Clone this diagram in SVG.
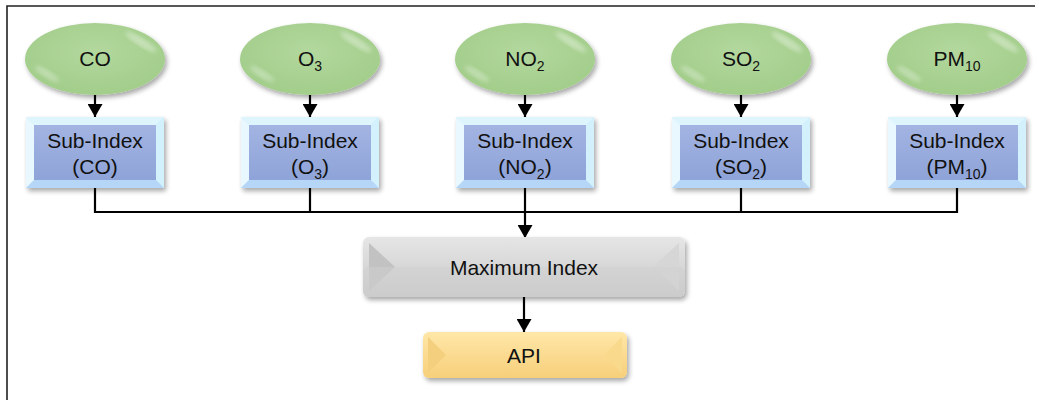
<svg xmlns="http://www.w3.org/2000/svg" width="1039" height="400" viewBox="0 0 1039 400">
<defs>
<style>
text{font-family:"Liberation Sans",Arial,sans-serif;font-size:21px;fill:#111;text-anchor:middle}
.sub{font-size:14px}
.conn{stroke:#000;stroke-width:2.2;fill:none}
</style>
<radialGradient id="gEl" cx="0.5" cy="0.4" r="0.6">
<stop offset="0" stop-color="#b3d89e"/>
<stop offset="1" stop-color="#a2cd8a"/>
</radialGradient>
<linearGradient id="gBlue" x1="0" y1="0" x2="0" y2="1">
<stop offset="0" stop-color="#a3b4e2"/>
<stop offset="1" stop-color="#8ea3d8"/>
</linearGradient>
<linearGradient id="gGray" x1="0" y1="0" x2="0" y2="1">
<stop offset="0" stop-color="#e6e6e6"/>
<stop offset="1" stop-color="#c8c8c8"/>
</linearGradient>
<linearGradient id="gGold" x1="0" y1="0" x2="0" y2="1">
<stop offset="0" stop-color="#ffe7a8"/>
<stop offset="1" stop-color="#f7cf7a"/>
</linearGradient>
<filter id="sh" x="-10%" y="-10%" width="125%" height="140%">
<feGaussianBlur in="SourceAlpha" stdDeviation="2.5"/>
<feOffset dx="2" dy="3"/>
<feComponentTransfer><feFuncA type="linear" slope="0.35"/></feComponentTransfer>
<feMerge><feMergeNode/><feMergeNode in="SourceGraphic"/></feMerge>
</filter>
<filter id="blur"><feGaussianBlur stdDeviation="2"/></filter>
<marker id="ar" viewBox="0 0 10 10" refX="10" refY="5" markerWidth="13" markerHeight="15" markerUnits="userSpaceOnUse" orient="auto" preserveAspectRatio="none">
<path d="M0,0 L10,5 L0,10 z" fill="#000"/>
</marker>
<g id="subBox">
<rect x="0" y="0" width="138" height="71" fill="#c6ecfb"/>
<polygon points="0,0 138,0 130,8 8,8" fill="#dff5fd"/>
<polygon points="0,0 8,8 8,63 0,71" fill="#e9f8fe"/>
<polygon points="138,0 138,71 130,63 130,8" fill="#d3f1fc"/>
<polygon points="0,71 8,63 130,63 138,71" fill="#b5d6f6"/>
<rect x="8" y="8" width="122" height="55" fill="url(#gBlue)"/>
</g>
<g id="ell">
<ellipse cx="0" cy="0" rx="70" ry="36" fill="url(#gEl)"/>
<ellipse cx="46" cy="-17" rx="18" ry="4" fill="#ffffff" opacity="0.35" filter="url(#blur)" transform="rotate(32 46 -17)"/>
<ellipse cx="-48" cy="15" rx="14" ry="3.5" fill="#ffffff" opacity="0.3" filter="url(#blur)" transform="rotate(32 -48 15)"/>
</g>
</defs>
<rect width="1039" height="400" fill="#fff"/>
<path d="M7,400 V6 H1035" stroke="#222" stroke-width="1.6" fill="none"/>

<g id="connectors">
<path class="conn" d="M95,95 V117" marker-end="url(#ar)"/>
<path class="conn" d="M310,95 V117" marker-end="url(#ar)"/>
<path class="conn" d="M525,95 V117" marker-end="url(#ar)"/>
<path class="conn" d="M741,95 V117" marker-end="url(#ar)"/>
<path class="conn" d="M957,95 V117" marker-end="url(#ar)"/>
<path class="conn" d="M95,188 V212 H957 V188 M310,188 V212 M741,188 V212"/>
<path class="conn" d="M525,188 V238" marker-end="url(#ar)"/>
<path class="conn" d="M524,297 V332" marker-end="url(#ar)"/>
</g>

<g id="n-co"><use href="#ell" x="95" y="59" filter="url(#sh)"/><text x="95" y="66">CO</text></g>
<g id="n-o3"><use href="#ell" x="310" y="59" filter="url(#sh)"/><text x="310" y="66">O<tspan class="sub" dy="5">3</tspan></text></g>
<g id="n-no2"><use href="#ell" x="525" y="59" filter="url(#sh)"/><text x="525" y="66">NO<tspan class="sub" dy="5">2</tspan></text></g>
<g id="n-so2"><use href="#ell" x="741" y="59" filter="url(#sh)"/><text x="741" y="66">SO<tspan class="sub" dy="5">2</tspan></text></g>
<g id="n-pm10"><use href="#ell" x="957" y="59" filter="url(#sh)"/><text x="957" y="66">PM<tspan class="sub" dy="5">10</tspan></text></g>

<g id="s-co"><use href="#subBox" x="26" y="117" filter="url(#sh)"/><text x="95" y="148">Sub-Index</text><text x="95" y="174">(CO)</text></g>
<g id="s-o3"><use href="#subBox" x="241" y="117" filter="url(#sh)"/><text x="310" y="148">Sub-Index</text><text x="310" y="174">(O<tspan class="sub" dy="5">3</tspan><tspan dy="-5">)</tspan></text></g>
<g id="s-no2"><use href="#subBox" x="456" y="117" filter="url(#sh)"/><text x="525" y="148">Sub-Index</text><text x="525" y="174">(NO<tspan class="sub" dy="5">2</tspan><tspan dy="-5">)</tspan></text></g>
<g id="s-so2"><use href="#subBox" x="672" y="117" filter="url(#sh)"/><text x="741" y="148">Sub-Index</text><text x="741" y="174">(SO<tspan class="sub" dy="5">2</tspan><tspan dy="-5">)</tspan></text></g>
<g id="s-pm10"><use href="#subBox" x="888" y="117" filter="url(#sh)"/><text x="957" y="148">Sub-Index</text><text x="957" y="174">(PM<tspan class="sub" dy="5">10</tspan><tspan dy="-5">)</tspan></text></g>

<g id="n-max">
<g filter="url(#sh)">
<rect x="363" y="237" width="322" height="60" rx="6" fill="url(#gGray)"/>
<polygon points="369,243 395,267 369,291" fill="#c2c2c2"/>
<polygon points="679,243 653,267 679,291" fill="#d6d6d6"/>
<rect x="363" y="267" width="322" height="30" rx="6" fill="#cfcfcf" opacity="0.5"/>
</g>
<text x="524" y="275">Maximum Index</text>
</g>

<g id="n-api">
<g filter="url(#sh)">
<rect x="423" y="332" width="204" height="46" rx="6" fill="url(#gGold)"/>
<polygon points="428,337 446,355 428,373" fill="#f4cf7d"/>
<polygon points="622,337 604,355 622,373" fill="#f9d98c"/>
</g>
<text x="524" y="363">API</text>
</g>
</svg>
